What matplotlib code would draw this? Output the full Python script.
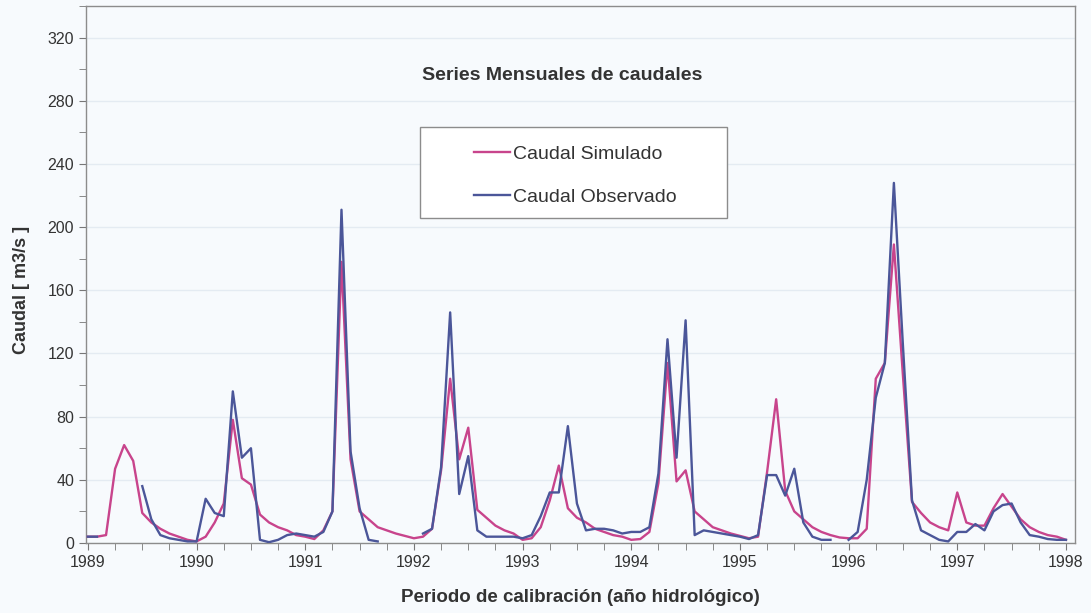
import numpy as np
import matplotlib
matplotlib.use("Agg")
import matplotlib.pyplot as plt
from matplotlib.patches import Rectangle
from matplotlib.ticker import MultipleLocator

plt.rcParams['font.family'] = ['Liberation Sans', 'DejaVu Sans']

# Monthly flows (m3/s), hydrological years 1989-1997, one value per month
start_year = 1989
simulado = [
    4, 4, 5, 47, 62, 52, 19, 13, 9, 6, 4, 2,            # 1989
    1, 4, 13, 25, 78, 41, 37, 18, 13, 10, 8, 5,         # 1990
    4, 2.5, 8, 20, 178, 53, 20, 15, 10, 8, 6, 4.5,      # 1991
    3, 4, 9, 46, 104, 53, 73, 21, 16, 11, 8, 6,         # 1992
    2, 3, 10, 27, 49, 22, 16, 13, 9, 7, 5, 4,           # 1993
    2, 2.5, 7, 38, 114, 39, 46, 20, 15, 10, 8, 6,       # 1994
    4.5, 3, 4, 45, 91, 33, 20, 15, 10, 7, 5, 3.5,       # 1995
    3, 3, 9, 104, 114, 189, 106, 26, 19, 13, 10, 8,     # 1996
    32, 13, 11, 11, 22, 31, 23, 15, 10, 7, 5, 4,        # 1997
    2,                                                  # 1998
]
nan = np.nan
observado = [
    4, 4, nan, nan, nan, nan, 36, 15, 5, 3, 2, 1,
    1, 28, 19, 17, 96, 54, 60, 2, 0.5, 2, 5, 6,
    5, 4, 7, 20, 211, 58, 22, 2, 1, nan, nan, nan,
    nan, 6, 9, 48, 146, 31, 55, 8, 4, 4, 4, 4,
    3, 5, 17, 32, 32, 74, 25, 8, 9, 9, 8, 6,
    7, 7, 10, 44, 129, 54, 141, 5, 8, 7, 6, 5,
    4, 2.5, 5, 43, 43, 30, 47, 13, 4, 2, 2, nan,
    2, 7, 40, 92, 114, 228, 125, 27, 8, 5, 2, 1,
    7, 7, 12, 8, 20, 24, 25, 13, 5, 4, 2.5, 2,
    2,
]
year_labels = [str(y) for y in range(1989, 1999)]

t = start_year + np.arange(len(simulado)) / 12.0

bg = '#f7fafd'
fig = plt.figure(figsize=(10.91, 6.13), dpi=100, facecolor=bg)
ax = fig.add_axes([0.0788, 0.1142, 0.9065, 0.876], facecolor=bg)

ax.plot(t, simulado, color='#c8448c', lw=1.7, label='Caudal Simulado', zorder=3)
ax.plot(t, observado, color='#4b5699', lw=1.7, label='Caudal Observado', zorder=4)

ax.set_xlim(1988.982, 1998.083)
ax.set_ylim(0, 340)

ax.yaxis.set_major_locator(MultipleLocator(40))
ax.yaxis.set_minor_locator(MultipleLocator(20))
ax.set_xticks(range(1989, 1999))
ax.set_xticklabels(year_labels)
ax.xaxis.set_minor_locator(MultipleLocator(0.25))
ax.tick_params(which='both', direction='out', color='#777777', labelsize=11.5,
               labelcolor='#333333', length=5)
ax.grid(axis='y', which='major', color='#e4ebf2', lw=1)
ax.set_axisbelow(True)
for sp in ax.spines.values():
    sp.set_color('#8c8c8c')
    sp.set_linewidth(1)

ax.set_ylabel('Caudal [ m3/s ]', fontsize=13, fontweight='bold', color='#333333')
ax.yaxis.set_label_coords(-0.0647, 0.471)
ax.set_xlabel('Periodo de calibración (año hidrológico)', fontsize=13.5,
              fontweight='bold', color='#333333')
ax.xaxis.set_label_coords(0.4995, -0.1006)
ax.xaxis.label.set_va('center')
ax.yaxis.label.set_va('center')

ax.text(0.482, 0.871, 'Series Mensuales de caudales', transform=ax.transAxes,
        ha='center', va='center', fontsize=14, fontweight='bold', color='#333333')

# legend box drawn separately so its size can be set freely
ax.add_patch(Rectangle((0.338, 0.605), 0.310, 0.170, transform=ax.transAxes,
                       facecolor='white', edgecolor='#8c8c8c', lw=1, zorder=5))
leg = ax.legend(loc='center', bbox_to_anchor=(0.495, 0.684), frameon=False,
                fontsize=14, handlelength=1.85, handletextpad=0.15,
                labelspacing=1.3)
leg.set_zorder(6)
for txt in leg.get_texts():
    txt.set_color('#333333')

fig.savefig('out.png', dpi=100, facecolor=bg)
